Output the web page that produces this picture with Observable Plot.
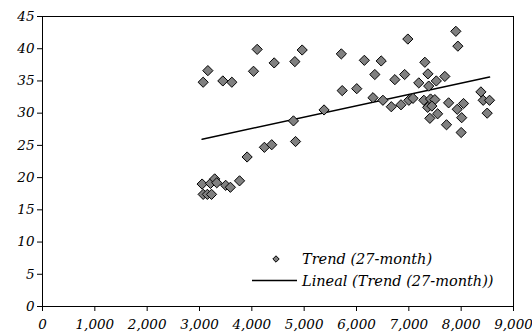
<!DOCTYPE html>
<html>
<head>
<meta charset="utf-8">
<script src="https://cdn.jsdelivr.net/npm/d3@7"></script>
<script src="https://cdn.jsdelivr.net/npm/@observablehq/plot@0.6"></script>
<style>
  html, body { margin: 0; padding: 0; background: #fff; }
  #wrap { position: relative; width: 532px; height: 334px; }
  #wrap svg text { font-family: "DejaVu Serif", serif !important; font-style: italic !important; font-variant: normal !important; font-variant-numeric: normal !important; }
  #wrap svg.plot-chart text { font-size: 13.5px !important; }
  #legend { position: absolute; left: 0; top: 0; pointer-events: none; }
  #legend text { font-size: 14.5px !important; }
</style>
</head>
<body>
<div id="wrap"></div>
<script>
// Data
const seriesName = "Trend (27-month)";
const trendName = "Lineal (Trend (27-month))";
const xValues = [
  3050, 3210, 3290, 3330, 3500, 3590, 3765, 3070, 3150, 3230,
  3910, 4240, 4380, 4835, 4795, 5380,
  3070, 3160, 3446, 3618, 4032, 4102, 4427, 4822, 4962,
  5710, 5727, 6005, 6150, 6472, 6350, 6315, 6505, 6665, 6733,
  6850, 6920, 6981, 7000, 7080, 7190, 7287, 7306, 7365, 7360,
  7380, 7415, 7497, 7440, 7402, 7550, 7525, 7688, 7720, 7760,
  7898, 7937, 7925, 8045, 8010, 8000, 8377, 8421, 8542, 8497
];
const yValues = [
  19.0, 19.1, 19.8, 19.2, 18.8, 18.5, 19.5, 17.4, 17.4, 17.4,
  23.2, 24.7, 25.1, 25.6, 28.8, 30.5,
  34.8, 36.6, 35.0, 34.8, 36.5, 39.9, 37.8, 38.0, 39.8,
  39.2, 33.5, 33.8, 38.2, 38.1, 36.0, 32.4, 32.0, 31.0, 35.2,
  31.3, 36.0, 41.5, 32.0, 32.3, 34.7, 32.0, 37.9, 36.1, 30.9,
  34.2, 32.2, 32.1, 31.1, 29.2, 29.9, 35.0, 35.7, 28.2, 31.6,
  42.7, 40.4, 30.6, 31.5, 29.3, 27.0, 33.3, 32.0, 32.0, 30.0
];
const xTicks = [0, 1000, 2000, 3000, 4000, 5000, 6000, 7000, 8000, 9000];
const yTicks = [0, 5, 10, 15, 20, 25, 30, 35, 40, 45];

const data = xValues.map((x, i) => ({x, y: yValues[i]}));

const chart = Plot.plot({
  width: 532,
  height: 334,
  marginLeft: 42,
  marginRight: 19,
  marginTop: 16,
  marginBottom: 28,
  className: "plot-chart",
  style: {fontFamily: "DejaVu Serif", fontStyle: "italic", fontSize: "13.5px", color: "black", background: "white"},
  x: {domain: [0, 9000]},
  y: {domain: [0, 45]},
  marks: [
    Plot.frame({stroke: "black", strokeWidth: 1}),
    Plot.axisX({ticks: xTicks, tickFormat: d3.format(","), tickSize: 5, tickPadding: 8, label: null}),
    Plot.axisY({ticks: yTicks, tickSize: 5, tickPadding: 3, label: null}),
    Plot.linearRegressionY(data, {x: "x", y: "y", ci: 0, stroke: "black", strokeWidth: 1.5}),
    Plot.dot(data, {x: "x", y: "y", symbol: "diamond2", r: 4.6, fill: "#808080", stroke: "black", strokeWidth: 1})
  ]
});
chart.classList.add("plot-chart");
document.getElementById("wrap").appendChild(chart);

// Legend overlay (inside plot area, lower right)
const leg = d3.select("#wrap").append("svg")
  .attr("id", "legend").attr("width", 532).attr("height", 334);
leg.append("path")
  .attr("d", d3.symbol(d3.symbolDiamond2, 26)())
  .attr("transform", "translate(276,259)")
  .attr("fill", "#808080").attr("stroke", "black").attr("stroke-width", 1);
leg.append("text").attr("x", 302).attr("y", 263.5).text(seriesName);
leg.append("line").attr("x1", 252).attr("x2", 297).attr("y1", 280.5).attr("y2", 280.5)
  .attr("stroke", "black").attr("stroke-width", 1.5);
leg.append("text").attr("x", 302).attr("y", 285.5).text(trendName);
</script>
</body>
</html>
